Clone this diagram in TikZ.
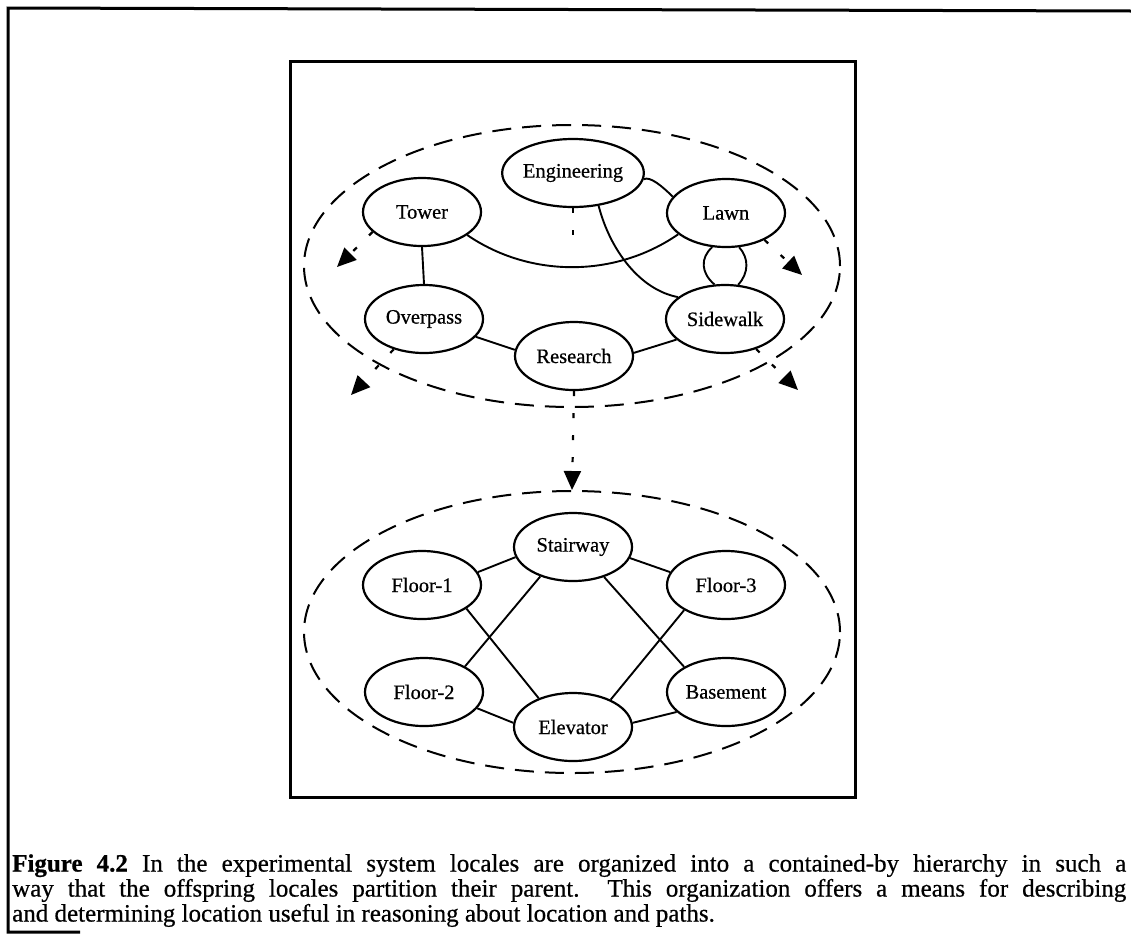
\documentclass[tikz,border=0pt]{standalone}
\usepackage{fontspec}
\setmainfont{Liberation Serif}[FakeBold=0.6]
\usetikzlibrary{shapes.geometric,arrows.meta}

\begin{document}
\begin{tikzpicture}[x=1pt,y=-1pt,
  locale/.style={draw, ellipse, line width=2.2pt, minimum width=118pt,
    minimum height=68pt, inner sep=0pt, font=\fontsize{20.5}{24}\selectfont},
  link/.style={line width=1.9pt},
  group/.style={draw, ellipse, line width=2pt, dash pattern=on 19pt off 11pt,
    minimum width=536pt, minimum height=282pt, inner sep=0pt},
  dotline/.style={line width=2.2pt, dash pattern=on 5pt off 17pt},
  dotarrow/.style={dotline, -{Triangle[length=19pt,width=17pt]}},
  frame/.style={line width=3pt}]

\useasboundingbox (0,0) rectangle (1131,943);

% page frame and figure box
\draw[frame] (1131,11) -- (8,8) -- (8,932) -- (80,932);
\draw[frame] (290,61) rectangle (855,797);

% parent locale and its offspring
\node[group] (upper) at (572,266) {};
\node[locale] (en) at (573,173) {Engineering};
\node[locale] (tw) at (422,212) {Tower};
\node[locale] (lw) at (726,213) {Lawn};
\node[locale] (ov) at (424,319) {Overpass};
\node[locale] (sw) at (725,319) {Sidewalk};
\node[locale] (rs) at (574,356) {Research};

% offspring of Research
\node[group] (lower) at (572,632) {};
\node[locale] (st) at (573,547) {Stairway};
\node[locale] (f1) at (422,585) {Floor-1};
\node[locale] (f3) at (726,585) {Floor-3};
\node[locale] (f2) at (424,692) {Floor-2};
\node[locale] (bs) at (726,692) {Basement};
\node[locale] (el) at (573,727) {Elevator};

% adjacency, upper level
\draw[link] (tw.-90) -- (ov.90);
\draw[link] (ov.-19) -- (rs.174);
\draw[link] (rs.3) -- (sw.-157);
\draw[link] (en.-5) .. controls (650,176) and (662,186) .. (lw.163);
\draw[link] (en.-52) .. controls (610,250) and (640,290) .. (sw.155);
\draw[link] (tw.-27) .. controls (530,278) and (615,278) .. (lw.-156);
\draw[link] (lw.-112) .. controls (700,258) and (701,273) .. (sw.107);
\draw[link] (lw.-69) .. controls (749,258) and (749,273) .. (sw.69);

% adjacency, lower level
\draw[link] (f1.13) -- (st.190);
\draw[link] (st.-11) -- (f3.167);
\draw[link] (st.-138) -- (f2.32);
\draw[link] (st.-44) -- (bs.149);
\draw[link] (f1.-28) -- (el.140);
\draw[link] (f3.-149) -- (el.36);
\draw[link] (f2.-17) -- (el.176);
\draw[link] (el.4) -- (bs.-158);

% contained-by links
\coordinate (enEnd) at (573,240);
\coordinate (twTip) at (337,267);
\coordinate (lwTip) at (802,275);
\coordinate (ovTip) at (351,395);
\coordinate (swTip) at (798,390);
\draw[dotline] (en.-90) -- (enEnd);
\draw[dotarrow] (tw.-158) -- (twTip);
\draw[dotarrow] (lw.-35) -- (lwTip);
\draw[dotarrow] (ov.-135) -- (ovTip);
\draw[dotarrow] (sw.-44) -- (swTip);
\draw[dotarrow] (rs.-90) -- (lower.north);

% caption
\node[anchor=north west, text width=1114pt, inner sep=0pt, align=justify,
  font=\fontsize{25}{25}\selectfont] (cap) at (12,854)
  {\textbf{Figure 4.2} In the experimental system locales are organized into a contained-by hierarchy in such a\linebreak
   way that the offspring locales partition their parent.\ \ This organization offers a means for describing\linebreak
   and determining location useful in reasoning about location and paths.};
\end{tikzpicture}
\end{document}
